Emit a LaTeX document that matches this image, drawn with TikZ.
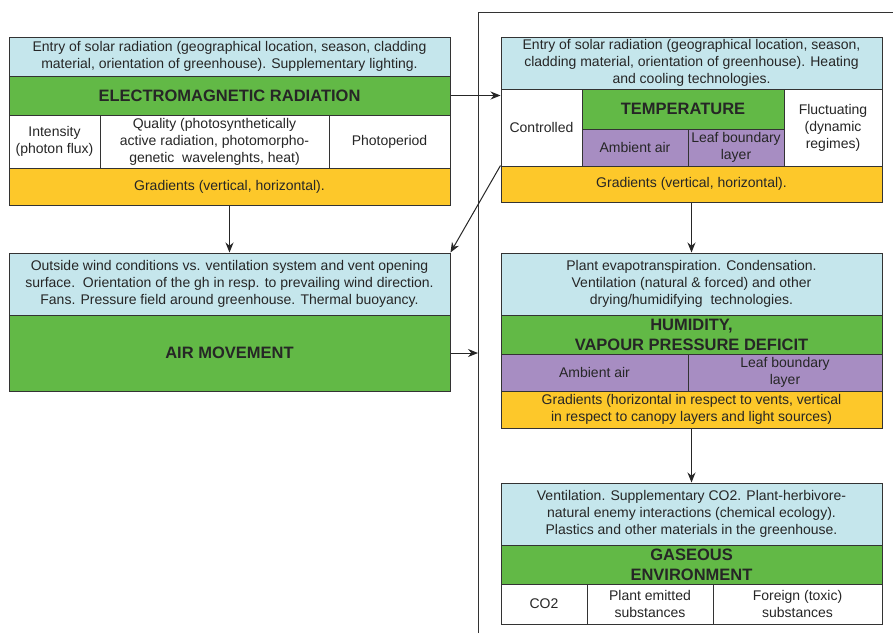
\documentclass[tikz,border=0pt]{standalone}
\usepackage{fontspec}
\setmainfont{Liberation Sans}
\usetikzlibrary{arrows.meta}

\definecolor{skyblue}{HTML}{C5E6EC}
\definecolor{leafgreen}{HTML}{62B946}
\definecolor{sunyellow}{HTML}{FDC82A}
\definecolor{lilac}{HTML}{A78DC2}
\definecolor{edgegray}{HTML}{333333}

\tikzset{
  cell/.style={draw=edgegray, line width=1pt, inner sep=0pt, align=center,
    text=black!85, font=\fontsize{14}{17}\selectfont},
  headcell/.style={cell, fill=leafgreen, font=\fontsize{16.5}{20}\selectfont\bfseries},
  flow/.style={draw=black!85, line width=1pt, -{Stealth[length=10pt,width=8pt]}}
}

\begin{document}
\begin{tikzpicture}[x=1pt,y=-1pt]
\useasboundingbox (0,0) rectangle (893,633);

% frame round the inside of the greenhouse
\coordinate (frameBottom) at (478,633);
\coordinate (frameTop) at (478,12);
\coordinate (frameRight) at (893,12);
\draw[edgegray, line width=1pt] (frameBottom) -- (frameTop) -- (frameRight);

% electromagnetic radiation
\node[cell, fill=skyblue, minimum width=441pt, minimum height=39pt] (emEntry) at (229.5,56.5)
  {Entry of solar radiation (geographical location, season, cladding\\material, orientation of greenhouse). Supplementary lighting.};
\node[headcell, minimum width=441pt, minimum height=39pt] (emTitle) at (229.5,95.5)
  {ELECTROMAGNETIC RADIATION};
\node[cell, fill=white, minimum width=91pt, minimum height=53pt] (emIntensity) at (54.5,141.5)
  {Intensity\\(photon flux)};
\node[cell, fill=white, minimum width=229pt, minimum height=53pt] (emQuality) at (214.5,141.5)
  {Quality (photosynthetically\\active radiation, photomorpho-\\genetic\ \ wavelenghts, heat)};
\node[cell, fill=white, minimum width=121pt, minimum height=53pt] (emPhoto) at (389.5,141.5)
  {Photoperiod};
\node[cell, fill=sunyellow, minimum width=441pt, minimum height=37pt] (emGrad) at (229.5,186.5)
  {Gradients (vertical, horizontal).};

% air movement
\node[cell, fill=skyblue, minimum width=441pt, minimum height=62pt] (airEntry) at (229.5,284)
  {Outside wind conditions vs. ventilation system and vent opening\\surface.\ \ Orientation of the gh in resp. to prevailing wind direction.\\Fans. Pressure field around greenhouse. Thermal buoyancy.};
\node[headcell, minimum width=441pt, minimum height=76pt] (airTitle) at (229.5,353)
  {AIR MOVEMENT};

% temperature
\node[cell, fill=skyblue, minimum width=381pt, minimum height=52pt] (tEntry) at (691.5,63)
  {Entry of solar radiation (geographical location, season,\\cladding material, orientation of greenhouse). Heating\\and cooling technologies.};
\node[cell, fill=white, minimum width=81pt, minimum height=77pt] (tCtrl) at (541.5,127.5)
  {Controlled};
\node[headcell, minimum width=202pt, minimum height=40pt] (tTitle) at (683,109)
  {TEMPERATURE};
\node[cell, fill=lilac, minimum width=106pt, minimum height=37pt] (tAmb) at (635,147.5)
  {Ambient air};
\node[cell, fill=lilac, minimum width=96pt, minimum height=37pt] (tLeaf) at (736,147.5)
  {Leaf boundary\\layer};
\node[cell, fill=white, minimum width=98pt, minimum height=77pt] (tFluct) at (833,127.5)
  {Fluctuating\\(dynamic\\regimes)};
\node[cell, fill=sunyellow, minimum width=381pt, minimum height=36pt] (tGrad) at (691.5,184)
  {Gradients (vertical, horizontal).};

% humidity
\node[cell, fill=skyblue, minimum width=381pt, minimum height=62pt] (hEntry) at (691.5,284)
  {Plant evapotranspiration. Condensation.\\Ventilation (natural \& forced) and other\\drying/humidifying\ \ technologies.};
\node[headcell, minimum width=381pt, minimum height=39pt] (hTitle) at (691.5,334.5)
  {HUMIDITY,\\VAPOUR PRESSURE DEFICIT};
\node[cell, fill=lilac, minimum width=187pt, minimum height=37pt] (hAmb) at (594.5,372.5)
  {Ambient air};
\node[cell, fill=lilac, minimum width=194pt, minimum height=37pt] (hLeaf) at (785,372.5)
  {Leaf boundary\\layer};
\node[cell, fill=sunyellow, minimum width=381pt, minimum height=37pt] (hGrad) at (691.5,409.5)
  {Gradients (horizontal in respect to vents, vertical\\in respect to canopy layers and light sources)};

% gaseous environment
\node[cell, fill=skyblue, minimum width=381pt, minimum height=62pt] (gEntry) at (691.5,514)
  {Ventilation. Supplementary CO2. Plant-herbivore-\\natural enemy interactions (chemical ecology).\\Plastics and other materials in the greenhouse.};
\node[headcell, minimum width=381pt, minimum height=39pt] (gTitle) at (691.5,564.5)
  {GASEOUS\\ENVIRONMENT};
\node[cell, fill=white, minimum width=86pt, minimum height=40pt] (gCO2) at (544,604)
  {CO2};
\node[cell, fill=white, minimum width=126pt, minimum height=40pt] (gPlant) at (650,604)
  {Plant emitted\\substances};
\node[cell, fill=white, minimum width=169pt, minimum height=40pt] (gForeign) at (797.5,604)
  {Foreign (toxic)\\substances};

% links
\draw[flow] (emGrad) -- (airEntry);
\draw[flow] (emTitle.east) -- (emTitle.east -| tCtrl.west);
\draw[flow] (tGrad.north west) -- (airEntry.north east);
\draw[flow] (airTitle.east) -- (airTitle.east -| frameTop);
\draw[flow] (tGrad) -- (hEntry);
\draw[flow] (hGrad) -- (gEntry);
\end{tikzpicture}
\end{document}
